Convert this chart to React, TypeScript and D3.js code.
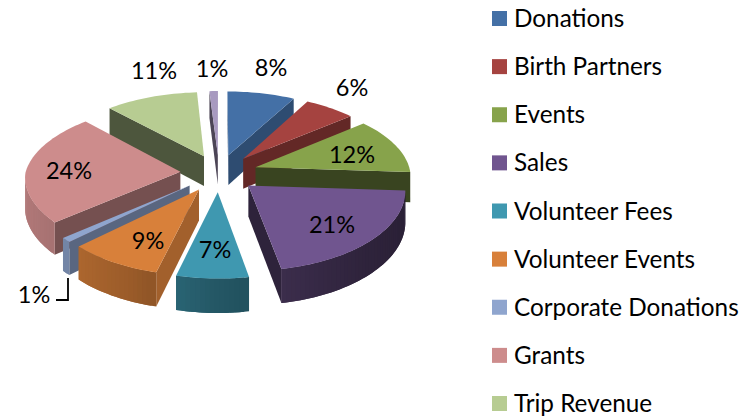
import React from "react";
import * as d3 from "d3";

const categories = ["Donations","Birth Partners","Events","Sales","Volunteer Fees","Volunteer Events","Corporate Donations","Grants","Trip Revenue"];
const sliceNames = [...categories, "Other"];
const values = [8,6,12,21,7,9,1,24,11,1];
const sliceColors = ["#4470a6","#a54340","#87a34b","#70558f","#3f98b0","#d8803a","#8fa5ce","#cd8c8c","#b7cc92","#a89ac0"];
const radialShade = [0.68,0.6,0.42,0.41,0.5,0.75,0.62,0.57,0.42,0.45];
const labelSpots: [number,number][] = [[271,68],[352,88],[352,155],[332,225],[215,250],[148,241],[34,295],[69,171],[154,71],[212,69]];
const FONT = "Lato, Carlito, Calibri, sans-serif";

const W = 745, H = 418;
const CX = 219, CY = 173, RX = 155, RY = 75, EXPLODE = 0.25, DEPTH = 30.5;
const K_BACK = 0.115, K_FRONT_X = 0.06, K_FRONT_Y = 0.09;
const uScale = d3.scaleLinear().domain([-1,1]).range([-RX,RX]);
const vScale = d3.scaleLinear().domain([-1,1]).range([-RY,RY]);
type P = {x:number;y:number;s:number};
const project = (u:number,v:number):P => {
  const sx = 1/(1-(v<0?K_BACK:K_FRONT_X)*v);
  const s = 1/(1-(v<0?K_BACK:K_FRONT_Y)*v);
  return {x:CX+uScale(u)*sx, y:CY+vScale(v)*s, s};
};
const under = (p:P):P => ({x:p.x,y:p.y+DEPTH*p.s,s:p.s});
const poly = (ps:P[]) => ps.map(p=>`${p.x.toFixed(2)},${p.y.toFixed(2)}`).join(" ");
const arcShade = d3.scaleLinear().domain([-1,-0.4,0,0.7,1]).range([0.87,0.72,0.58,0.42,0.38]).clamp(true);
const darken = (c:string,f:number) => { const r=d3.rgb(c); return d3.rgb(r.r*f,r.g*f,r.b*f).formatHex(); };

const arcs = d3.pie<number>().sort(null).startAngle(0).endAngle(2*Math.PI)(values);

type Piece = {pts:P[];fill:string};
const slices = arcs.map((a,i)=>{
  const mid=(a.startAngle+a.endAngle)/2;
  const eu=EXPLODE*Math.sin(mid), ev=-EXPLODE*Math.cos(mid);
  const apex=project(eu,ev);
  const n=Math.max(2,Math.ceil((a.endAngle-a.startAngle)/0.03));
  const angles=d3.range(n+1).map(j=>a.startAngle+(a.endAngle-a.startAngle)*j/n);
  const rim=angles.map(t=>project(eu+Math.sin(t),ev-Math.cos(t)));
  const base=sliceColors[i];
  const walls:Piece[]=[];
  const radial=darken(base,radialShade[i]);
  if(rim[0].x<apex.x) walls.push({pts:[apex,rim[0],under(rim[0]),under(apex)],fill:radial});
  const last=rim[rim.length-1];
  if(apex.x<last.x) walls.push({pts:[last,apex,under(apex),under(last)],fill:radial});
  // Each rim quad reaches over the next one so that no hairline shows between them.
  const quads:Piece[]=[];
  rim.slice(0,-1).forEach((p,j)=>{
    const q=rim[j+1];
    if(q.x<p.x){
      const nxt=rim[j+2];
      const end=nxt&&nxt.x<q.x?nxt:q;
      const t=(angles[j]+angles[j+1])/2;
      quads.push({pts:[p,q,end,under(end),under(q),under(p)],fill:darken(base,arcShade(Math.sin(t)))});
    }
  });
  walls.push(...quads.reverse());
  return {i,ev,walls,top:[apex,...rim],fill:base,name:sliceNames[i]};
}).sort((a,b)=>a.ev-b.ev);

export default function App(){
  return (
    <svg width={W} height={H} viewBox={`0 0 ${W} ${H}`} style={{position:"fixed",left:0,top:0,display:"block",background:"#fff"}}>
      {slices.map(s=>(
        <g key={s.i} data-name={s.name}>
          {s.walls.map((w,k)=><polygon key={k} points={poly(w.pts)} fill={w.fill}/>)}
          <polygon points={poly(s.top)} fill={s.fill}/>
        </g>
      ))}
      <path d="M68,278V300H56" fill="none" stroke="#000" strokeWidth={1.8}/>
      {values.map((v,i)=>(
        <text key={i} x={labelSpots[i][0]} y={labelSpots[i][1]} dy="0.35em" textAnchor="middle" fontFamily={FONT} fontSize={23.5} fill="#000">{v}%</text>
      ))}
      {categories.map((c,i)=>{
        const y=d3.scaleLinear().domain([0,8]).range([18.5,403.5])(i);
        return (
          <g key={c}>
            <rect x={492} y={y-7.5} width={15} height={15} fill={sliceColors[i]}/>
            <text x={514} y={y} dy="0.35em" fontFamily={FONT} fontSize={24.3} fill="#000">{c}</text>
          </g>
        );
      })}
    </svg>
  );
}
